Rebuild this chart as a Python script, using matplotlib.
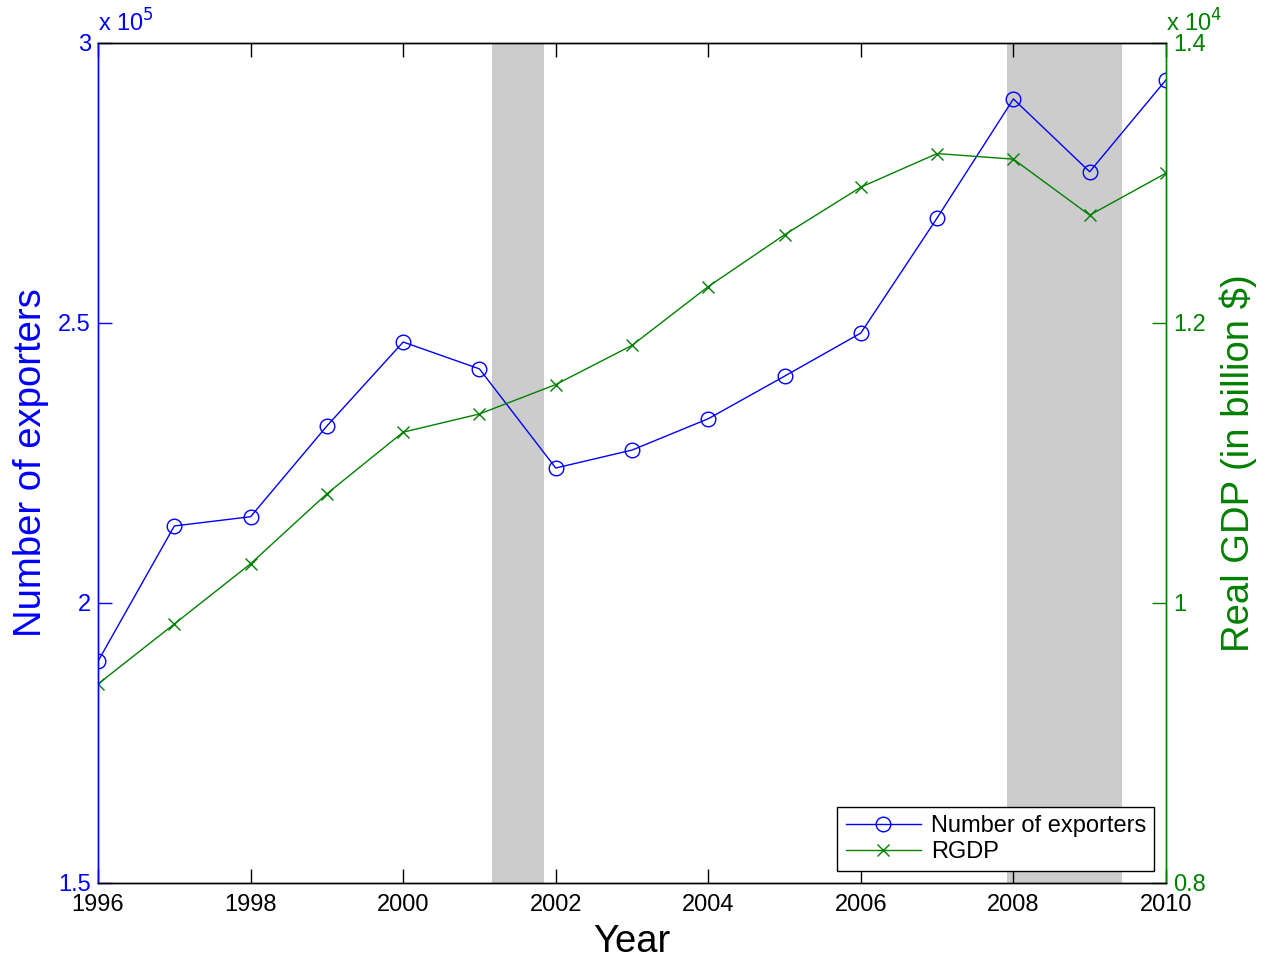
import matplotlib
matplotlib.use("Agg")
import matplotlib.pyplot as plt
from matplotlib.ticker import FuncFormatter

plt.rcParams['font.family'] = ['Liberation Sans', 'DejaVu Sans']

years = [1996, 1997, 1998, 1999, 2000, 2001, 2002, 2003, 2004, 2005,
         2006, 2007, 2008, 2009, 2010]
exporters = [189600, 213750, 215400, 231600, 246600, 241800, 224100,
             227300, 232900, 240500, 248200, 268750, 290000, 277000, 293400]
rgdp = [9421, 9850, 10280, 10780, 11220, 11350, 11560, 11840, 12260,
        12630, 12970, 13210, 13170, 12770, 13070]
recessions = [(2001.17, 2001.84), (2007.92, 2009.42)]
xticks = [1996, 1998, 2000, 2002, 2004, 2006, 2008, 2010]
left_ticks = [150000, 200000, 250000, 300000]
right_ticks = [8000, 10000, 12000, 14000]

blue = (0, 0, 1)
green = (0, 0.5, 0)
fs_tick = 17
fs_label = 27.5

fig = plt.figure(figsize=(12.65, 9.61), dpi=100)
ax1 = fig.add_axes([0.0775, 0.0812, 0.8442, 0.8741])
ax2 = ax1.twinx()

for a, b in recessions:
    ax1.axvspan(a, b, color='#cccccc', lw=0, zorder=0)

l1, = ax1.plot(years, exporters, color=blue, lw=1, marker='o', ms=10.5,
               mfc='none', mec=blue, mew=1, label='Number of exporters')
l2, = ax2.plot(years, rgdp, color=green, lw=1, marker='x', ms=8,
               mec=green, mew=1, label='RGDP')

ax1.set_xlim(1996, 2010)
ax1.set_ylim(150000, 300000)
ax2.set_ylim(8000, 14000)

ax1.set_xticks(xticks)
ax1.set_yticks(left_ticks)
ax2.set_yticks(right_ticks)
ax1.yaxis.set_major_formatter(FuncFormatter(lambda v, p: f"{v/1e5:g}"))
ax2.yaxis.set_major_formatter(FuncFormatter(lambda v, p: f"{v/1e4:g}"))

ax1.tick_params(axis='x', direction='in', top=True, length=10, width=1,
                labelsize=fs_tick, pad=8, colors='black')
ax1.tick_params(axis='y', direction='in', left=True, right=False, length=10,
                width=1, labelsize=fs_tick, colors=blue, pad=5)
ax2.tick_params(axis='y', direction='in', right=True, length=10, width=1,
                labelsize=fs_tick, colors=green, pad=5)

for ax in (ax1, ax2):
    for s in ax.spines.values():
        s.set_linewidth(1)
ax2.spines['left'].set_color(blue)
ax1.spines['left'].set_color(blue)
ax2.spines['right'].set_color(green)
ax1.spines['right'].set_color(green)

ax1.set_xlabel('Year', fontsize=fs_label, labelpad=6)
ax1.set_ylabel('Number of exporters', fontsize=fs_label, color=blue, labelpad=6.5)
ax2.set_ylabel('Real GDP (in billion $)', fontsize=fs_label, color=green, labelpad=10)

ax1.text(0.0, 1.008, r'x 10$^5$', transform=ax1.transAxes, color=blue,
         fontsize=fs_tick, ha='left', va='bottom')
ax2.text(1.0, 1.008, r'x 10$^4$', transform=ax2.transAxes, color=green,
         fontsize=fs_tick, ha='left', va='bottom')

leg = ax2.legend(handles=[l1, l2], loc='lower right', fontsize=fs_tick,
                 frameon=True, fancybox=False, edgecolor='black',
                 framealpha=1, borderaxespad=0.5, handlelength=3.2,
                 handletextpad=0.4, borderpad=0.35, labelspacing=0.15)
leg.get_frame().set_linewidth(1)

fig.savefig('out.png', dpi=100)
